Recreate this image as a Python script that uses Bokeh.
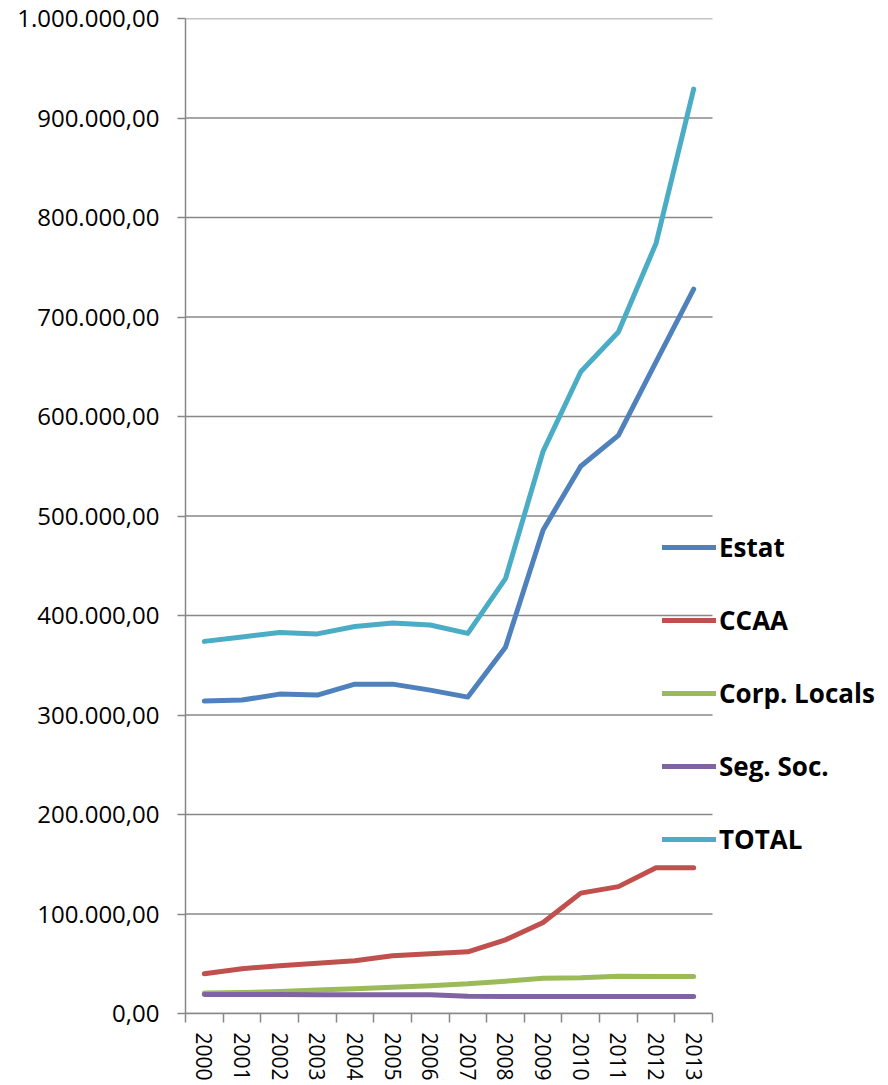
from bokeh.plotting import figure
from bokeh.models import Range1d, FixedTicker, Legend, LegendItem, ColumnDataSource
from bokeh.embed import file_html
from bokeh.resources import INLINE

years = [2000, 2001, 2002, 2003, 2004, 2005, 2006, 2007, 2008, 2009, 2010, 2011, 2012, 2013]
estat = [314000, 315000, 321000, 320000, 331000, 331000, 325000, 318000, 368000, 486000, 550000, 581000, 655000, 728000]
ccaa = [40000, 45000, 48000, 50500, 53000, 58000, 60000, 62000, 74000, 91500, 121000, 127500, 146500, 146500]
corp_locals = [20500, 21000, 22000, 23500, 24800, 26400, 28000, 29800, 32500, 35500, 36000, 37500, 37200, 37200]
seg_soc = [19200, 19100, 19000, 18900, 18900, 18800, 18800, 17300, 17200, 17200, 17200, 17200, 17200, 17200]
total = [374000, 378500, 383000, 381500, 389000, 392500, 390500, 382000, 437000, 565000, 645000, 685000, 774000, 929000]

series_names = ["Estat", "CCAA", "Corp. Locals", "Seg. Soc.", "TOTAL"]
series_values = [estat, ccaa, corp_locals, seg_soc, total]
colors = ["#4F81BD", "#C0504D", "#9BBB59", "#8064A2", "#4BACC6"]

y_ticks = [0, 100000, 200000, 300000, 400000, 500000, 600000, 700000, 800000, 900000, 1000000]
y_tick_labels = ["0,00", "100.000,00", "200.000,00", "300.000,00", "400.000,00", "500.000,00",
                 "600.000,00", "700.000,00", "800.000,00", "900.000,00", "1.000.000,00"]

FONT = "Open Sans"
GRID = "#888888"

W, H = 888, 1085
LEFT, TOP, BOTTOM = 185, 18, 72
DATA_W = 527  # width in px occupied by the category axis
x0 = years[0] - 0.5
x_end_data = years[-1] + 0.5
x_end = x0 + (x_end_data - x0) * (W - LEFT) / DATA_W

p = figure(width=W, height=H, output_backend="svg", toolbar_location=None,
           x_range=Range1d(x0, x_end), y_range=Range1d(0, 1000000),
           min_border_left=LEFT, min_border_right=0, min_border_top=TOP, min_border_bottom=BOTTOM)
p.outline_line_color = None
p.background_fill_color = "white"
p.border_fill_color = "white"

# Y axis
p.yaxis.ticker = FixedTicker(ticks=y_ticks)
p.yaxis.major_label_overrides = {t: l for t, l in zip(y_ticks, y_tick_labels)}
p.yaxis.major_tick_out = 8
p.yaxis.major_tick_in = 0
p.yaxis.minor_tick_line_color = None
p.yaxis.major_label_standoff = 18
p.yaxis.major_label_text_font = FONT
p.yaxis.major_label_text_font_size = "24px"
p.yaxis.major_label_text_color = "black"
p.yaxis.axis_line_color = GRID
p.yaxis.axis_line_width = 1.5
p.yaxis.major_tick_line_color = GRID
p.yaxis.major_tick_line_width = 1.5

# X axis (category boundaries as ticks, labels at centres)
bounds = [y - 0.5 for y in years] + [years[-1] + 0.5]
p.xaxis.ticker = FixedTicker(ticks=years, minor_ticks=bounds)
p.xaxis.bounds = (x0, x_end_data)
p.xaxis.major_tick_line_color = None
p.xaxis.major_tick_out = 0
p.xaxis.major_tick_in = 0
p.xaxis.minor_tick_out = 9
p.xaxis.minor_tick_in = 0
p.xaxis.minor_tick_line_color = GRID
p.xaxis.minor_tick_line_width = 1.5
p.xaxis.axis_line_color = GRID
p.xaxis.axis_line_width = 1.5
p.xaxis.major_label_orientation = "vertical"
p.xaxis.major_label_standoff = 10
p.xaxis.major_label_text_font = FONT
p.xaxis.major_label_text_font_size = "21px"
p.xaxis.major_label_text_color = "black"

# horizontal gridlines limited to the data area
p.xgrid.grid_line_color = None
p.ygrid.grid_line_color = None
p.segment(x0=[x0] * len(y_ticks), y0=y_ticks, x1=[x_end_data] * len(y_ticks), y1=y_ticks,
          line_color=GRID, line_width=1.5, level="underlay")

items = []
for name, vals, col in zip(series_names, series_values, colors):
    src = ColumnDataSource(dict(x=years, y=vals))
    r = p.line("x", "y", source=src, line_color=col, line_width=5,
               line_cap="round", line_join="round")
    items.append(LegendItem(label=name, renderers=[r]))

legend = Legend(items=items, location=(477, 156), orientation="vertical",
                glyph_width=54, glyph_height=20, label_height=20, spacing=37,
                padding=0, margin=0, label_standoff=3,
                border_line_color=None, background_fill_alpha=0,
                label_text_font=FONT, label_text_font_style="bold",
                label_text_font_size="26px", label_text_color="black")
p.add_layout(legend)

open("out.html", "w").write(file_html(p, INLINE))
